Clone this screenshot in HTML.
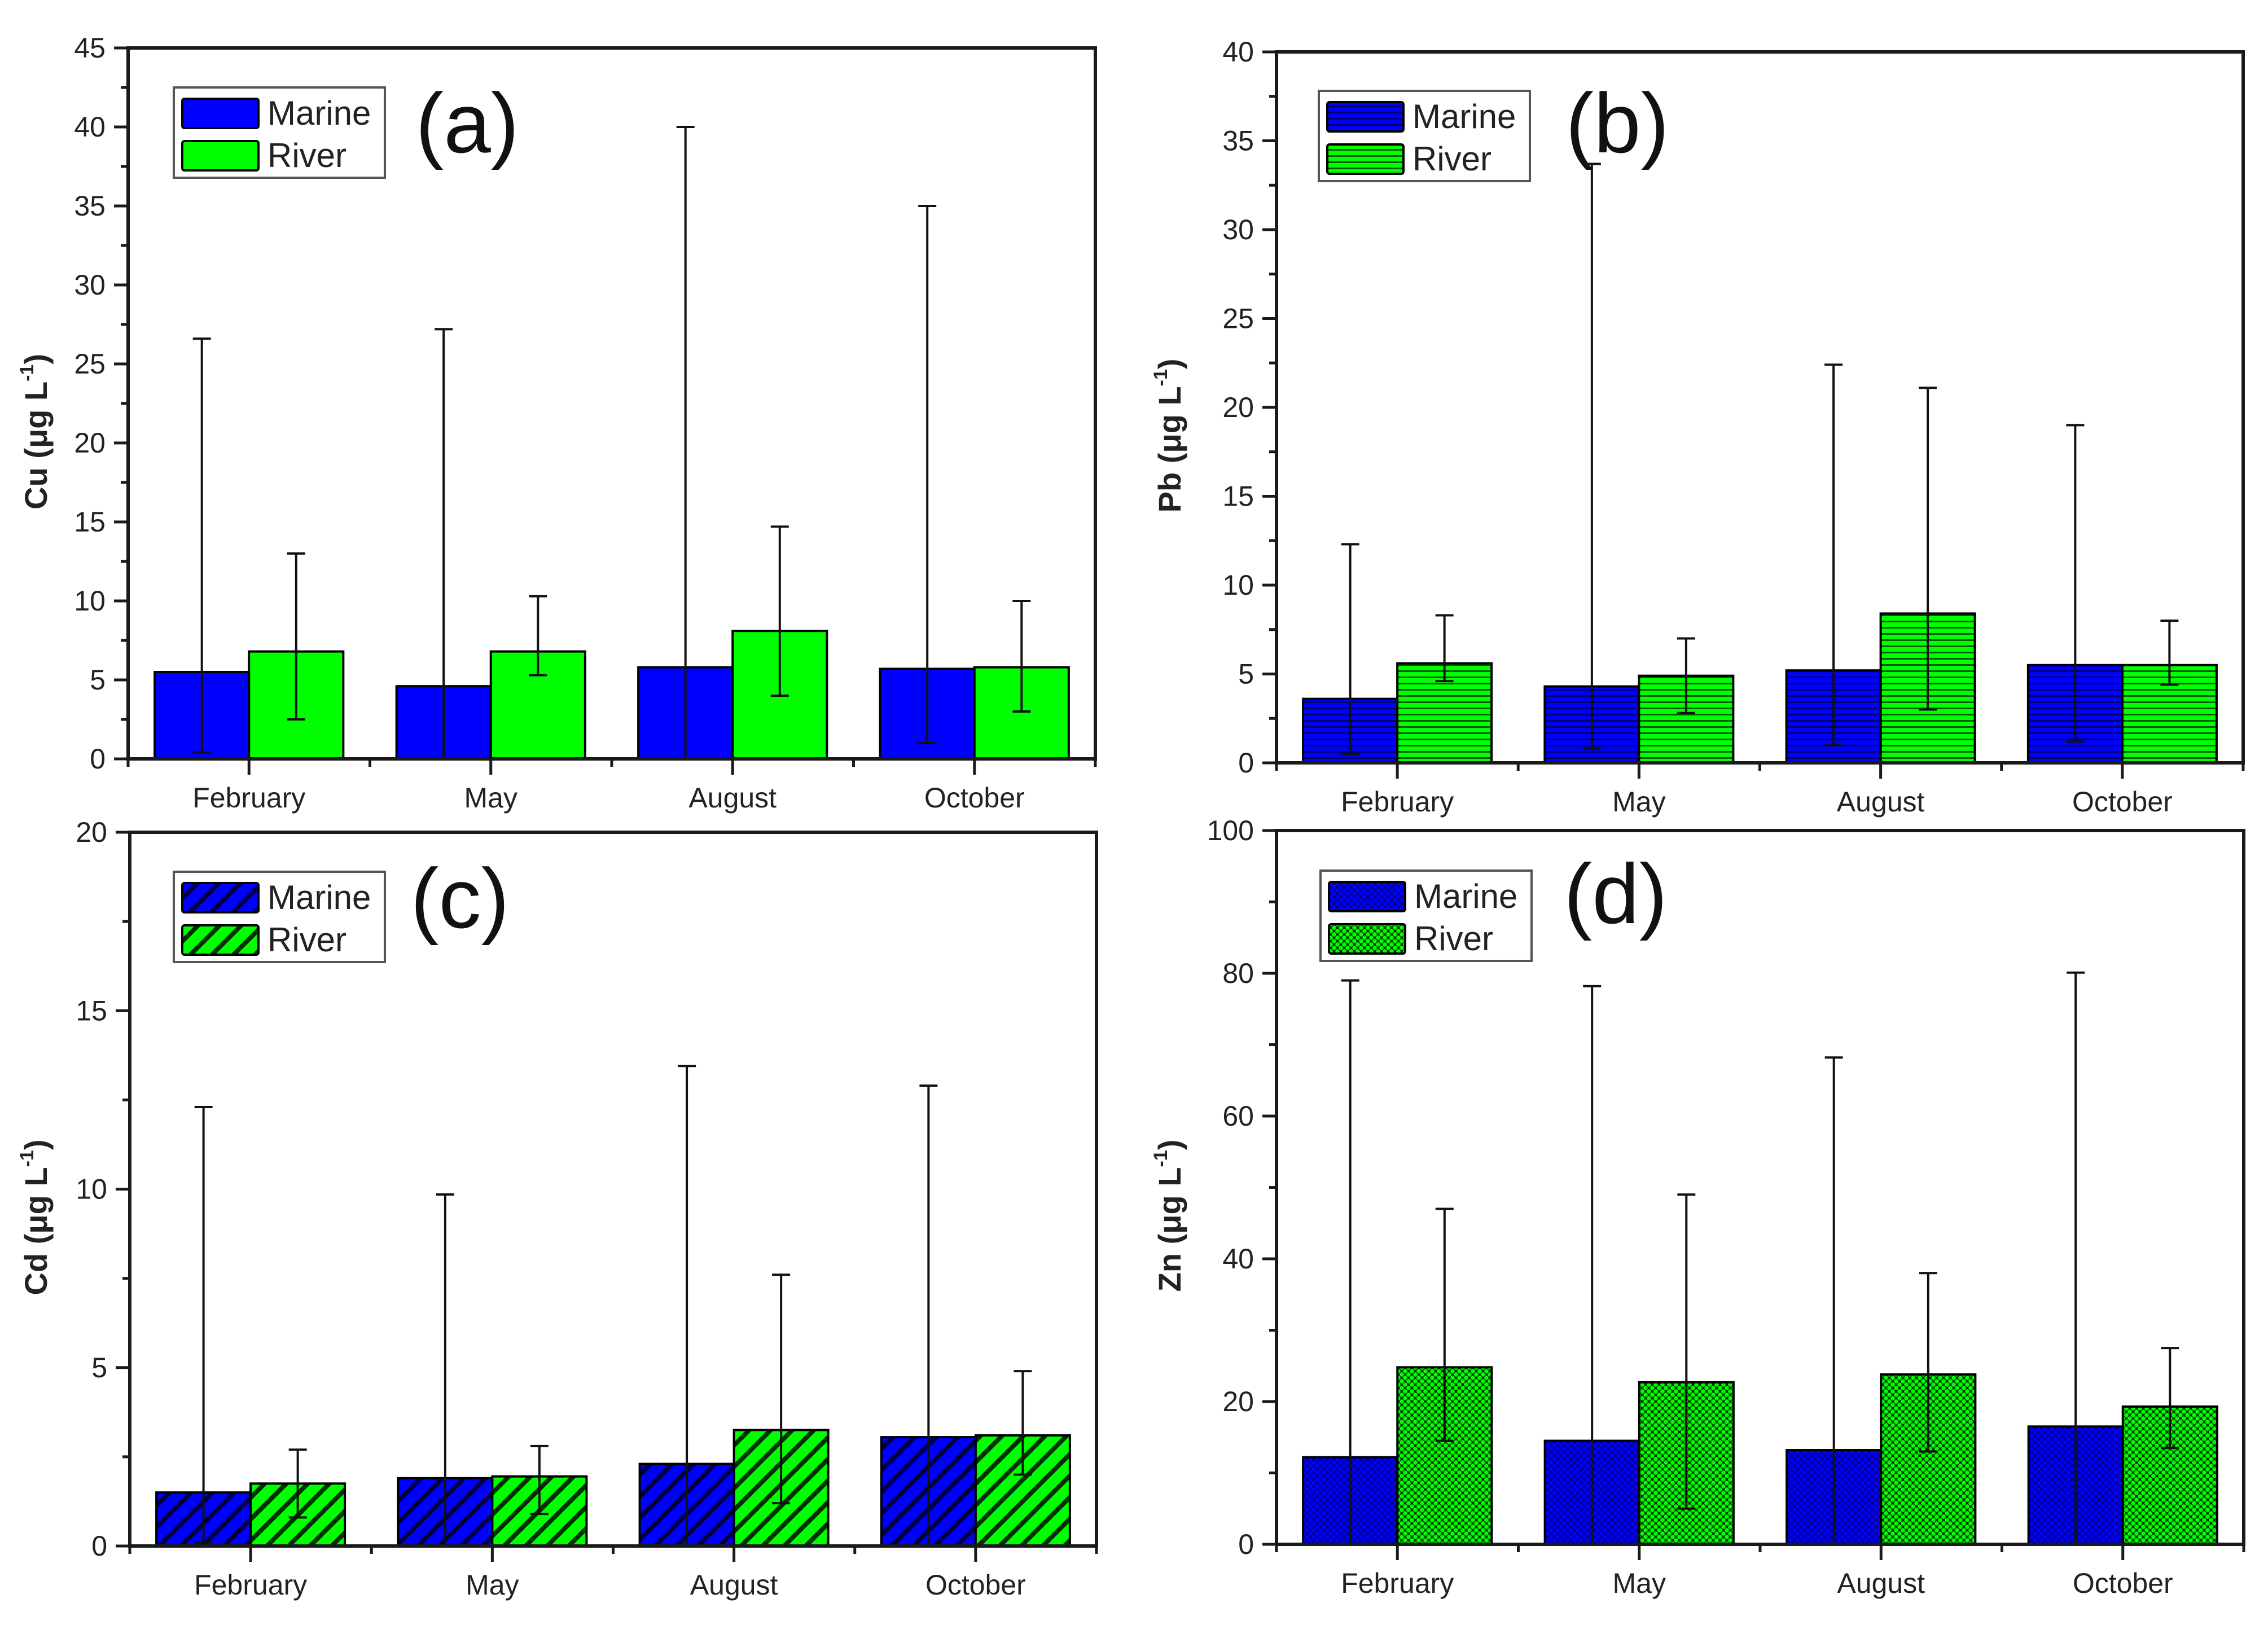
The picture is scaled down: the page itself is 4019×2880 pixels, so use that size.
<!DOCTYPE html>
<html><head><meta charset="utf-8"><style>
html,body{margin:0;padding:0;background:#fff;}
svg{display:block;font-family:"Liberation Sans",Arial,sans-serif;}
</style></head><body>
<svg id="fig" width="4019" height="2880" viewBox="0 0 4019 2880" xmlns="http://www.w3.org/2000/svg">
<defs>
<pattern id="p-b-m" width="20" height="11" patternUnits="userSpaceOnUse"><rect width="20" height="11" fill="#0000ff"/><rect y="0" width="20" height="3" fill="#00006a"/></pattern>
<pattern id="p-b-r" width="20" height="11" patternUnits="userSpaceOnUse"><rect width="20" height="11" fill="#00ff00"/><rect y="0" width="20" height="3" fill="#005a00"/></pattern>
<pattern id="p-c-m" width="27" height="27" patternUnits="userSpaceOnUse" patternTransform="rotate(45)"><rect width="27" height="27" fill="#0000ff"/><rect width="8" height="27" fill="#000040"/></pattern>
<pattern id="p-c-r" width="27" height="27" patternUnits="userSpaceOnUse" patternTransform="rotate(45)"><rect width="27" height="27" fill="#00ff00"/><rect width="8" height="27" fill="#003000"/></pattern>
<pattern id="p-d-m" width="12" height="12" patternUnits="userSpaceOnUse"><rect width="12" height="12" fill="#00008a"/><circle cx="6" cy="6" r="3.8" fill="#0000ff"/><circle cx="0" cy="0" r="3.8" fill="#0000ff"/><circle cx="12" cy="0" r="3.8" fill="#0000ff"/><circle cx="0" cy="12" r="3.8" fill="#0000ff"/><circle cx="12" cy="12" r="3.8" fill="#0000ff"/></pattern>
<pattern id="p-d-r" width="12" height="12" patternUnits="userSpaceOnUse"><rect width="12" height="12" fill="#003a00"/><circle cx="6" cy="6" r="3.8" fill="#00ff00"/><circle cx="0" cy="0" r="3.8" fill="#00ff00"/><circle cx="12" cy="0" r="3.8" fill="#00ff00"/><circle cx="0" cy="12" r="3.8" fill="#00ff00"/><circle cx="12" cy="12" r="3.8" fill="#00ff00"/></pattern>
</defs>
</svg>
<script>
// ---- data ----
const categories = ["February", "May", "August", "October"];
// Panel (a) Cu
const cuMarine = [5.5, 4.6, 5.8, 5.7];
const cuMarineHi = [26.6, 27.2, 40.0, 35.0];
const cuMarineLo = [0.4, 0.0, 0.0, 1.0];
const cuRiver = [6.8, 6.8, 8.1, 5.8];
const cuRiverHi = [13.0, 10.3, 14.7, 10.0];
const cuRiverLo = [2.5, 5.3, 4.0, 3.0];
const cuTicks = [0, 5, 10, 15, 20, 25, 30, 35, 40, 45];
// Panel (b) Pb
const pbMarine = [3.6, 4.3, 5.2, 5.5];
const pbMarineHi = [12.3, 33.7, 22.4, 19.0];
const pbMarineLo = [0.5, 0.8, 1.0, 1.2];
const pbRiver = [5.6, 4.9, 8.4, 5.5];
const pbRiverHi = [8.3, 7.0, 21.1, 8.0];
const pbRiverLo = [4.6, 2.8, 3.0, 4.4];
const pbTicks = [0, 5, 10, 15, 20, 25, 30, 35, 40];
// Panel (c) Cd
const cdMarine = [1.5, 1.9, 2.3, 3.05];
const cdMarineHi = [12.3, 9.85, 13.45, 12.9];
const cdMarineLo = [0.1, 0.0, 0.0, 0.0];
const cdRiver = [1.75, 1.95, 3.25, 3.1];
const cdRiverHi = [2.7, 2.8, 7.6, 4.9];
const cdRiverLo = [0.8, 0.9, 1.2, 2.0];
const cdTicks = [0, 5, 10, 15, 20];
// Panel (d) Zn
const znMarine = [12.2, 14.5, 13.2, 16.5];
const znMarineHi = [79.0, 78.2, 68.2, 80.1];
const znMarineLo = [0.0, 0.0, 0.0, 0.0];
const znRiver = [24.8, 22.7, 23.8, 19.3];
const znRiverHi = [47.0, 49.0, 38.0, 27.5];
const znRiverLo = [14.5, 5.0, 13.0, 13.5];
const znTicks = [0, 20, 40, 60, 80, 100];

const NS = "http://www.w3.org/2000/svg";
const svg = document.getElementById("fig");
function mk(tag, attrs, parent) {
  const e = document.createElementNS(NS, tag);
  for (const k in attrs) e.setAttribute(k, attrs[k]);
  (parent || svg).appendChild(e);
  return e;
}

const panels = [
  {id:"a", el:"Cu", x0:227, x1:1941, yTop:85, yBot:1345, ticks:cuTicks, m:cuMarine, mh:cuMarineHi, ml:cuMarineLo, r:cuRiver, rh:cuRiverHi, rl:cuRiverLo, fm:"#0000ff", fr:"#00ff00", leg:[308,155], lab:[828,218]},
  {id:"b", el:"Pb", x0:2262, x1:3975, yTop:92, yBot:1352, ticks:pbTicks, m:pbMarine, mh:pbMarineHi, ml:pbMarineLo, r:pbRiver, rh:pbRiverHi, rl:pbRiverLo, fm:"url(#p-b-m)", fr:"url(#p-b-r)", leg:[2337,161], lab:[2866,218]},
  {id:"c", el:"Cd", x0:230, x1:1943, yTop:1475, yBot:2740, ticks:cdTicks, m:cdMarine, mh:cdMarineHi, ml:cdMarineLo, r:cdRiver, rh:cdRiverHi, rl:cdRiverLo, fm:"url(#p-c-m)", fr:"url(#p-c-r)", leg:[308,1545], lab:[815,1592]},
  {id:"d", el:"Zn", x0:2262, x1:3976, yTop:1472, yBot:2737, ticks:znTicks, m:znMarine, mh:znMarineHi, ml:znMarineLo, r:znRiver, rh:znRiverHi, rl:znRiverLo, fm:"url(#p-d-m)", fr:"url(#p-d-r)", leg:[2340,1543], lab:[2863,1584]}
];

panels.forEach(p => {
  const g = mk("g", {});
  
  
  const ymax = p.ticks[p.ticks.length - 1];
  const yS = v => p.yBot - (v / ymax) * (p.yBot - p.yTop);
  const cw = (p.x1 - p.x0) / categories.length;
  const xC = i => p.x0 + cw * (i + 0.5);
  const bw = cw * 0.39;

  categories.forEach((c, i) => {
    const bm = mk("rect", {x:xC(i)-bw, y:yS(p.m[i]), width:bw, height:yS(0)-yS(p.m[i]), fill:p.fm, stroke:"#000", "stroke-width":4}, g);
    
    
    const br = mk("rect", {x:xC(i), y:yS(p.r[i]), width:bw, height:yS(0)-yS(p.r[i]), fill:p.fr, stroke:"#000", "stroke-width":4}, g);
    
    
  });
  categories.forEach((c, i) => {
    [[xC(i)-bw/2, p.mh[i], p.ml[i], 'marine'], [xC(i)+bw/2, p.rh[i], p.rl[i], 'river']].forEach(([x, hi, lo, s]) => {
      const eb = mk("g", {stroke:"#111", "stroke-width":4}, g);
      
      
      mk("line", {x1:x, x2:x, y1:yS(hi), y2:yS(lo)}, eb);
      mk("line", {x1:x-16, x2:x+16, y1:yS(hi), y2:yS(hi)}, eb);
      mk("line", {x1:x-16, x2:x+16, y1:yS(lo), y2:yS(lo)}, eb);
    });
  });

  const fr = mk("rect", {x:p.x0, y:p.yTop, width:p.x1-p.x0, height:p.yBot-p.yTop, fill:"none", stroke:"#1a1a1a", "stroke-width":6}, g);
  
  

  const step = p.ticks[1] - p.ticks[0];
  p.ticks.forEach((t, k) => {
    const y = yS(t);
    mk("line", {x1:p.x0-25, x2:p.x0, y1:y, y2:y, stroke:"#1a1a1a", "stroke-width":5}, g);
    if (k < p.ticks.length - 1) {
      const ym = yS(t + step/2);
      mk("line", {x1:p.x0-13, x2:p.x0, y1:ym, y2:ym, stroke:"#1a1a1a", "stroke-width":5}, g);
    }
    const tl = mk("text", {x:p.x0-40, y:y+17, "text-anchor":"end", "font-size":50, fill:"#222"}, g);
    tl.textContent = t;
    
    
  });
  categories.forEach((c, i) => {
    mk("line", {x1:xC(i), x2:xC(i), y1:p.yBot, y2:p.yBot+28, stroke:"#1a1a1a", "stroke-width":5}, g);
    mk("line", {x1:p.x0+cw*(i+1), x2:p.x0+cw*(i+1), y1:p.yBot, y2:p.yBot+14, stroke:"#1a1a1a", "stroke-width":5}, g);
    const xl = mk("text", {x:xC(i), y:p.yBot+86, "text-anchor":"middle", "font-size":50, fill:"#222"}, g);
    xl.textContent = c;
    
    
  });
  mk("line", {x1:p.x0, x2:p.x0, y1:p.yBot, y2:p.yBot+14, stroke:"#1a1a1a", "stroke-width":5}, g);

  const yc = (p.yTop + p.yBot) / 2 + 50;
  const yt = mk("text", {x:0, y:0, transform:"translate(83," + yc + ") rotate(-90)", "text-anchor":"middle", "font-size":56, "font-weight":"bold", fill:"#222"}, g);
  
  
  const t1 = mk("tspan", {}, yt); t1.textContent = p.el + " (\u03bcg L";
  const t2 = mk("tspan", {"font-size":34, dy:-24}, yt); t2.textContent = "-1";
  const t3 = mk("tspan", {dy:24}, yt); t3.textContent = ")";
  if (p.x0 > 1000) yt.setAttribute("transform", "translate(" + (p.x0 - 170) + "," + yc + ") rotate(-90)");

  const [lx, ly] = p.leg;
  const lg = mk("g", {}, g);
  
  
  mk("rect", {x:lx, y:ly, width:374, height:160, fill:"#fff", stroke:"#555", "stroke-width":4}, lg);
  [["Marine", p.fm, 20], ["River", p.fr, 95]].forEach(([name, fill, dy]) => {
    const e = mk("g", {}, lg);
    
    
    mk("rect", {x:lx+15, y:ly+dy, width:135, height:52, rx:4, fill:fill, stroke:"#000", "stroke-width":4}, e);
    const tx = mk("text", {x:lx+166, y:ly+dy+46, "font-size":60, fill:"#222"}, e);
    tx.textContent = name;
  });

  const pl = mk("text", {x:p.lab[0], y:p.lab[1]+52, "text-anchor":"middle", "font-size":150, fill:"#111"}, g);
  pl.textContent = "(" + p.id + ")";
  
  
});
</script>
</body></html>
